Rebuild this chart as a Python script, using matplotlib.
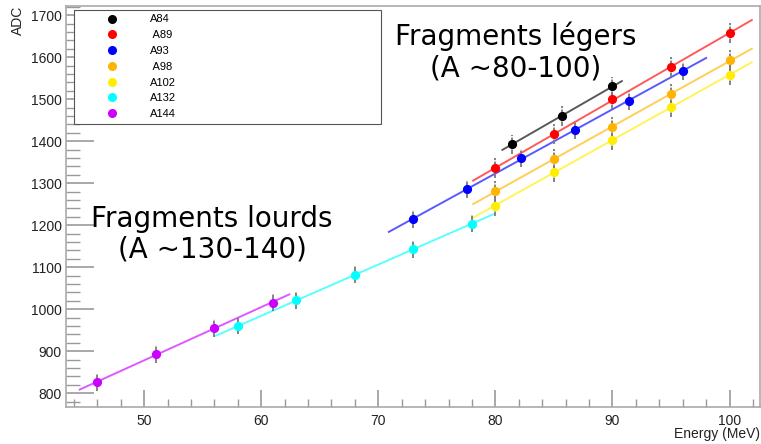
import numpy as np
import matplotlib.pyplot as plt
from matplotlib.lines import Line2D

# calibration points: beam energy (MeV) vs ADC channel, one set per mass
labels = ['A84', ' A89', 'A93', ' A98', 'A102', 'A132', 'A144']
colors = ['#000000', '#ff0000', '#0000ff', '#ffb400', '#ffee00', '#00ffff', '#cc00ff']

e_a84 = [81.4, 85.7, 90.0]
adc_a84 = [1393, 1460, 1531]
e_a89 = [80, 85, 90, 95, 100]
adc_a89 = [1336, 1417, 1500, 1576, 1658]
e_a93 = [73, 77.6, 82.2, 86.8, 91.4, 96]
adc_a93 = [1215, 1286, 1360, 1427, 1497, 1567]
e_a98 = [80, 85, 90, 95, 100]
adc_a98 = [1282, 1357, 1433, 1512, 1593]
e_a102 = [80, 85, 90, 95, 100]
adc_a102 = [1246, 1327, 1403, 1482, 1557]
e_a132 = [58, 63, 68, 73, 78]
adc_a132 = [960, 1021, 1082, 1143, 1204]
e_a144 = [46, 51, 56, 61]
adc_a144 = [826, 893, 956, 1016]

errors = [23, 24, 22, 24, 24, 20, 21]
fit_lo = [80.6, 78.1, 70.9, 78.1, 78.1, 56.1, 44.5]
fit_hi = [90.8, 101.9, 98.0, 101.9, 101.9, 79.8, 62.4]

energies = [e_a84, e_a89, e_a93, e_a98, e_a102, e_a132, e_a144]
adcs = [adc_a84, adc_a89, adc_a93, adc_a98, adc_a102, adc_a132, adc_a144]

fig = plt.figure(figsize=(7.61, 4.44), dpi=100)
ax = fig.add_axes([65.7 / 761, 37.3 / 444, 694.3 / 761, 400.7 / 444])

handles = []
for e, a, err, lo, hi, c, lab in zip(energies, adcs, errors, fit_lo, fit_hi, colors, labels):
    e = np.array(e)
    a = np.array(a)
    # linear fit drawn over its fit range
    p = np.polyfit(e, a, 1)
    xf = np.array([lo, hi])
    ax.plot(xf, np.polyval(p, xf), color=c, lw=1.4, alpha=0.65, zorder=2)
    eb = ax.errorbar(e, a, yerr=err, fmt='none', ecolor='#7a7a7a', elinewidth=1.3,
                     capsize=0, zorder=3)
    eb[2][0].set_linestyle((0, (2.5, 0.8)))
    ax.plot(e, a, 'o', color=c, ms=5.6, mec=c, zorder=4)
    handles.append(Line2D([], [], marker='o', ls='none', color=c, ms=5.5, label=lab))

ax.set_xlim(43.3, 102.6)
ax.set_ylim(768, 1722)
ax.set_xticks([50, 60, 70, 80, 90, 100])
ax.set_xticks(np.arange(44, 103, 2), minor=True)
ax.set_yticks(np.arange(800, 1701, 100))
ax.set_yticks(np.arange(780, 1721, 20), minor=True)
ax.tick_params(which='both', direction='in', colors='#999999', labelcolor='#222222',
               labelsize=10, labelfontfamily='Liberation Sans', top=False, right=False)
ax.tick_params(axis='y', which='major', length=20, width=1.2, pad=3)
ax.tick_params(axis='y', which='minor', length=10, width=1.0)
ax.tick_params(axis='x', which='major', length=12, width=1.2, pad=5)
ax.tick_params(axis='x', which='minor', length=6, width=1.0)
for s in ax.spines.values():
    s.set_color('#aaaaaa')
    s.set_linewidth(1.2)

fig.text(760 / 761, 1 - 434 / 444, 'Energy (MeV)', ha='right', va='center',
         fontsize=10, family='Liberation Sans', color='#222222')
fig.text(18 / 761, 1 - 6 / 444, 'ADC', ha='center', va='top', rotation=90,
         fontsize=10, family='Liberation Sans', color='#222222')

fig.text(516 / 761, 1 - 52 / 444, 'Fragments légers\n(A ~80-100)', ha='center',
         va='center', fontsize=20, family='DejaVu Sans', linespacing=1.12)
fig.text(212 / 761, 1 - 234 / 444, 'Fragments lourds\n(A ~130-140)', ha='center',
         va='center', fontsize=20, family='DejaVu Sans', linespacing=1.12)

leg = ax.legend(handles=handles, loc='upper left', mode='expand',
                bbox_to_anchor=(0.012, 0.661, 0.442, 0.329),
                prop={'family': 'Liberation Sans', 'size': 8},
                labelspacing=0.52, handlelength=6, handletextpad=0.45,
                borderpad=0.4, borderaxespad=0, fancybox=False, framealpha=1)
leg.get_frame().set_edgecolor('#555555')
leg.get_frame().set_linewidth(0.8)

fig.savefig('out.png', dpi=100)
